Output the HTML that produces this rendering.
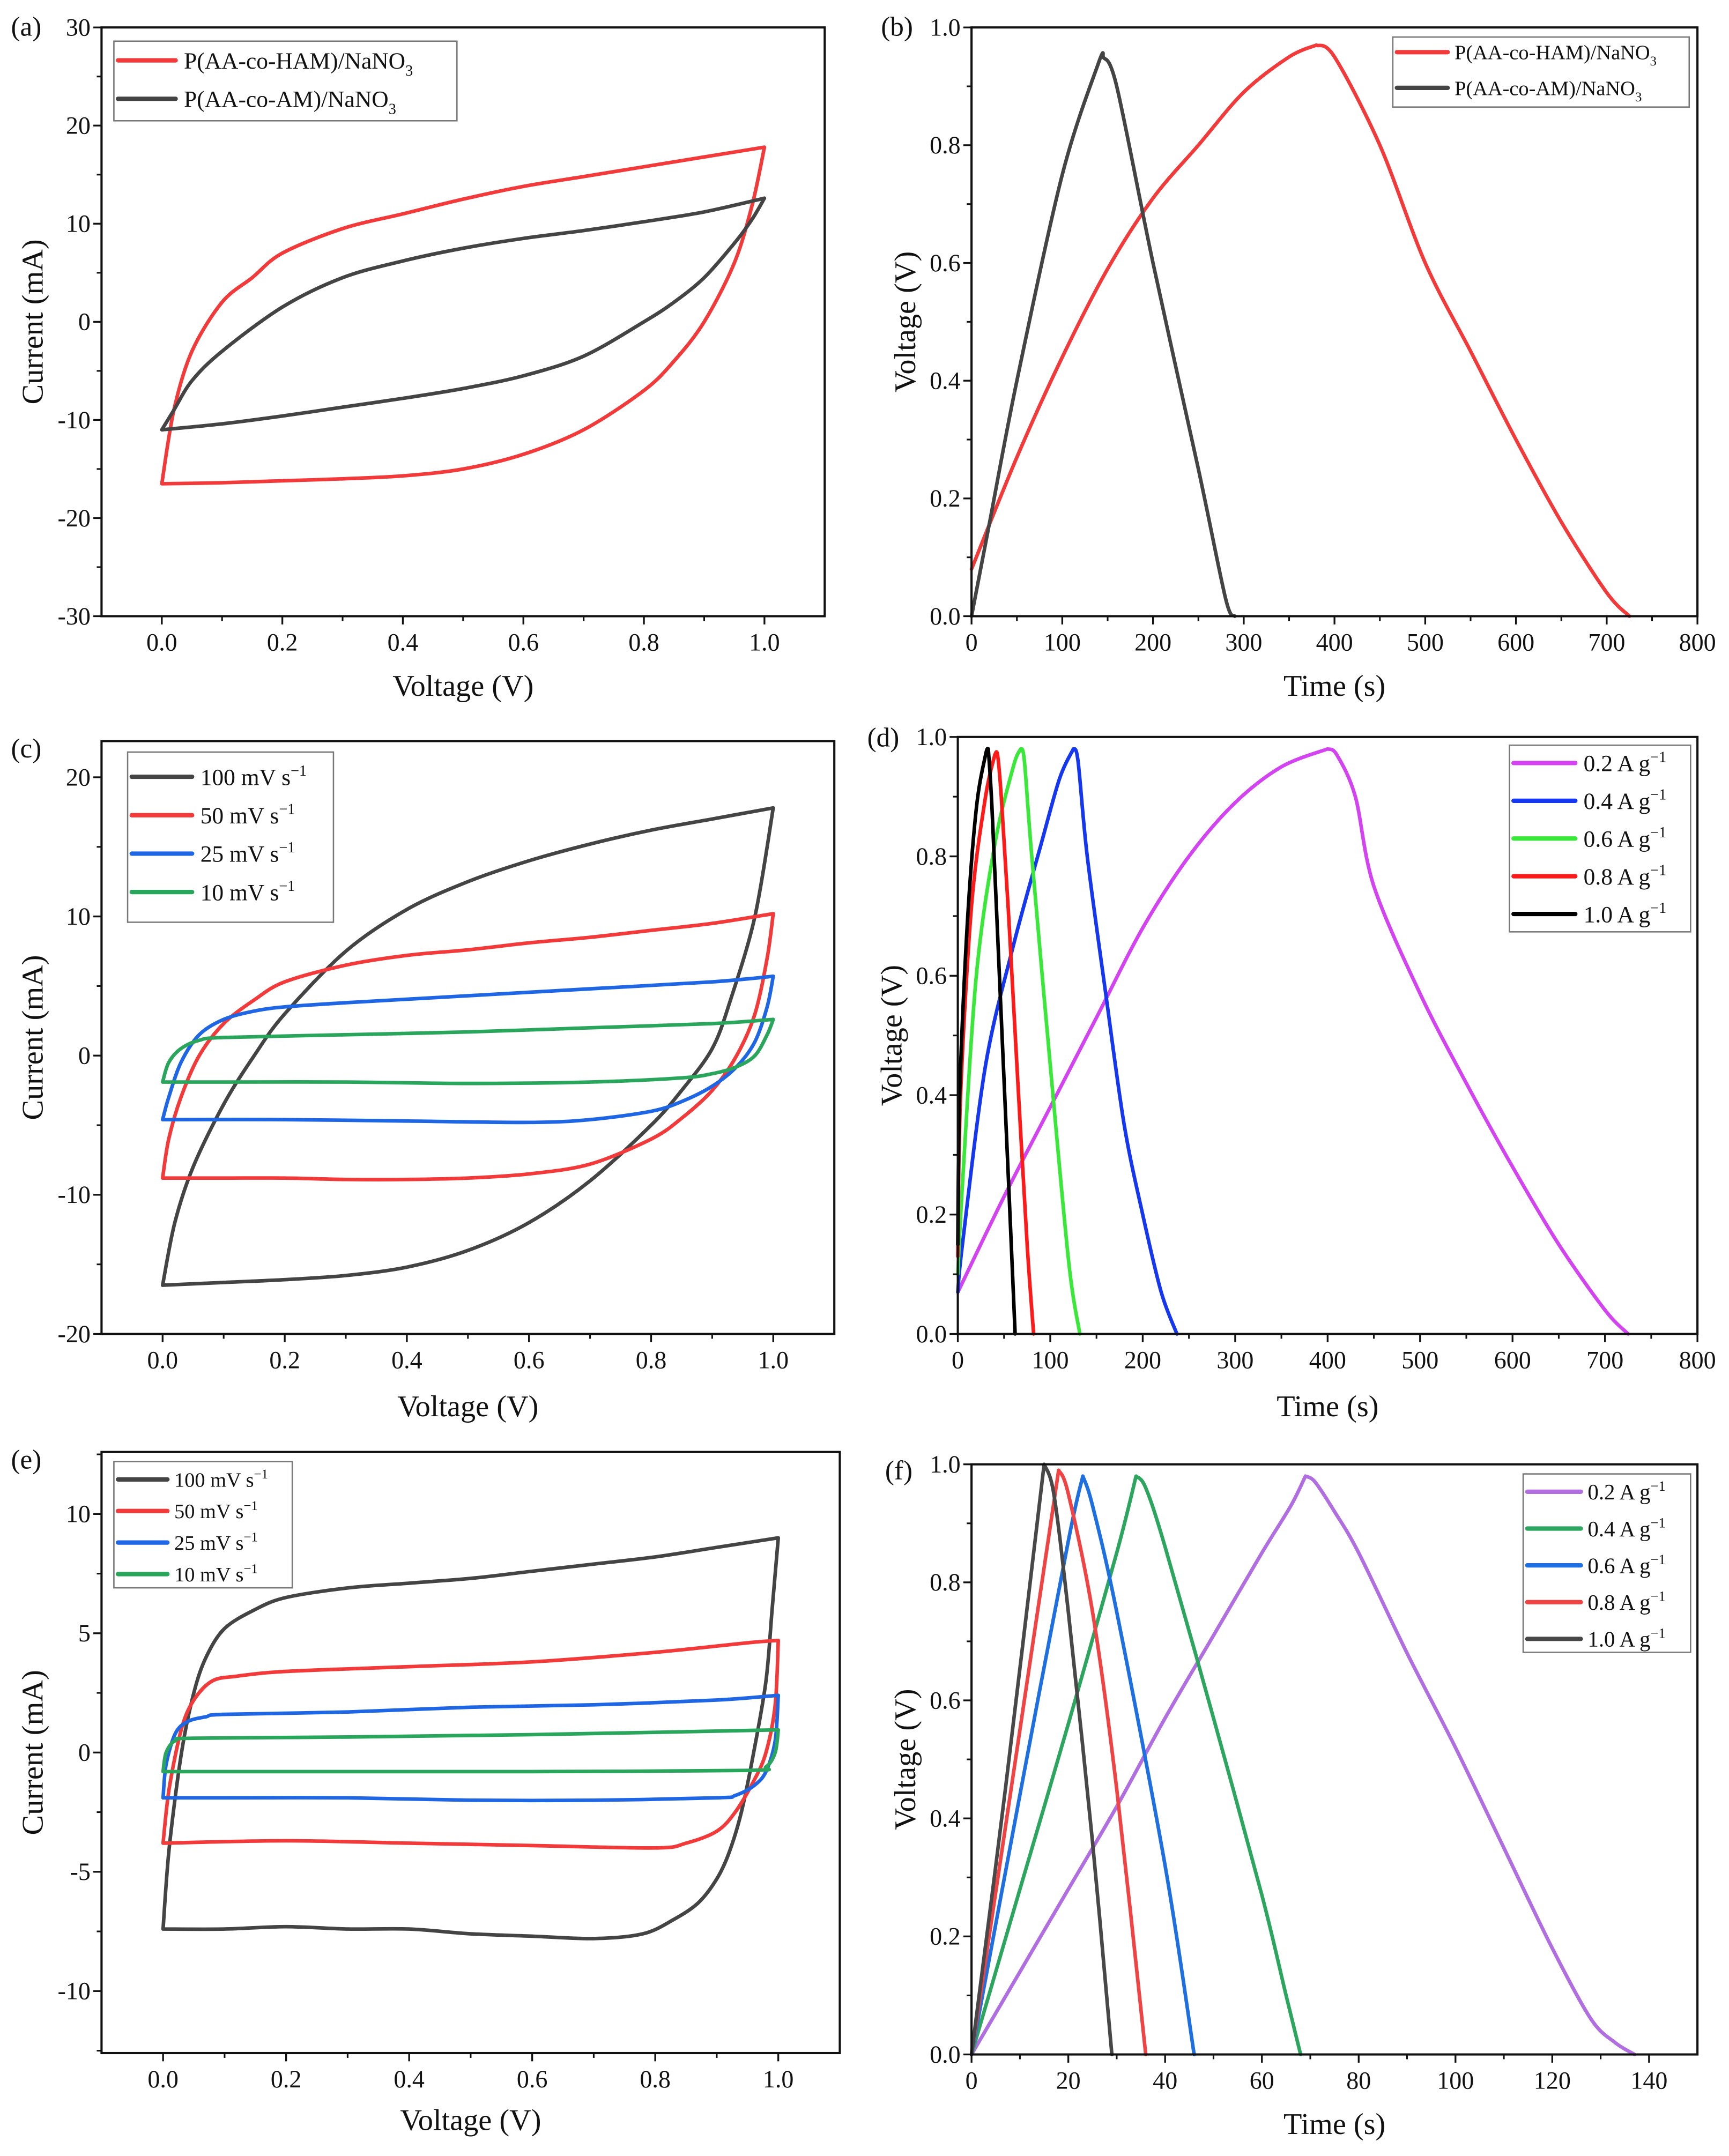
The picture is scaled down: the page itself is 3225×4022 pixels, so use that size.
<!DOCTYPE html>
<html><head><meta charset="utf-8">
<style>
html,body{margin:0;padding:0;background:#fff;}
svg{display:block;}
text{font-family:"Liberation Serif","DejaVu Serif",serif;fill:#111;}
</style></head>
<body>
<svg id="fig" xmlns="http://www.w3.org/2000/svg" width="3225" height="4022" viewBox="0 0 1260 1571" preserveAspectRatio="none"></svg>
<script>
// ---------- Panel (a) data ----------
const aRedV  = [0,0.02,0.05,0.1,0.15,0.2,0.3,0.4,0.5,0.6,0.7,0.8,0.9,1.0, 0.98,0.95,0.9,0.85,0.8,0.7,0.6,0.5,0.4,0.3,0.2,0.1,0.0];
const aRedI  = [-16.5,-9,-3,2,4.5,7,9.5,11,12.5,13.8,14.8,15.8,16.8,17.8, 12,6,0,-4,-7,-11,-13.5,-15,-15.7,-16,-16.2,-16.4,-16.5];
const aGrayV = [0,0.02,0.05,0.1,0.2,0.3,0.4,0.5,0.6,0.7,0.8,0.9,1.0, 0.98,0.95,0.9,0.85,0.8,0.7,0.6,0.5,0.4,0.3,0.2,0.1,0.0];
const aGrayI = [-11,-9,-6,-3,1.5,4.5,6.2,7.5,8.5,9.3,10.2,11.2,12.6, 10.5,8,4.5,2,0,-3.5,-5.5,-6.8,-7.8,-8.7,-9.6,-10.4,-11];
// ---------- Panel (b) data ----------
const bRedT  = [0,50,100,150,200,250,300,350,380,400,450,500,550,600,650,700,725];
const bRedV  = [0.08,0.27,0.44,0.59,0.71,0.8,0.89,0.95,0.97,0.95,0.8,0.6,0.45,0.3,0.16,0.04,0];
const bGrayT = [0,20,50,100,140,145,160,200,250,280,290];
const bGrayV = [0,0.16,0.4,0.75,0.94,0.95,0.9,0.6,0.25,0.03,0];
// ---------- Panel (c) data ----------
const c100V = [0,0.02,0.05,0.1,0.15,0.2,0.3,0.4,0.5,0.6,0.7,0.8,0.9,1.0, 0.97,0.93,0.9,0.85,0.8,0.7,0.6,0.5,0.4,0.3,0.2,0.1,0];
const c100I = [-16.5,-12,-8,-3.5,0,3,7.5,10.5,12.5,14,15.2,16.2,17,17.8, 10,4,0.5,-2.5,-5,-9,-12,-14,-15.2,-15.8,-16.1,-16.3,-16.5];
const c50V  = [0,0.01,0.03,0.06,0.1,0.15,0.2,0.3,0.4,0.5,0.6,0.7,0.8,0.9,1.0, 0.99,0.97,0.94,0.9,0.85,0.8,0.7,0.6,0.5,0.4,0.3,0.2,0.1,0];
const c50I  = [-8.8,-6,-3,0,2.3,4,5.3,6.5,7.2,7.6,8.1,8.5,9,9.5,10.2, 7,3,0,-2.5,-4.5,-6,-7.8,-8.5,-8.8,-8.9,-8.9,-8.8,-8.8,-8.8];
const c25V  = [0,0.01,0.03,0.06,0.1,0.15,0.2,0.3,0.5,0.7,0.9,1.0, 0.99,0.97,0.94,0.9,0.85,0.8,0.7,0.6,0.4,0.2,0];
const c25I  = [-4.6,-3,-0.5,1.5,2.6,3.2,3.5,3.8,4.3,4.8,5.3,5.7, 3.5,1,-0.8,-2.2,-3.3,-4,-4.6,-4.8,-4.7,-4.6,-4.6];
const c10V  = [0,0.01,0.03,0.06,0.1,0.3,0.5,0.7,0.9,1.0, 0.99,0.97,0.94,0.9,0.85,0.7,0.5,0.3,0.1,0];
const c10I  = [-1.9,-0.5,0.5,1.1,1.3,1.5,1.7,2,2.3,2.6, 1.5,0,-0.8,-1.3,-1.6,-1.9,-2,-1.9,-1.9,-1.9];
// ---------- Panel (d) data ----------
const d02T = [0,50,100,150,200,250,300,350,400,410,430,450,500,550,600,650,700,725];
const d02V = [0.07,0.23,0.38,0.53,0.68,0.8,0.89,0.95,0.98,0.97,0.9,0.75,0.57,0.42,0.28,0.15,0.04,0];
const d04T = [0,5,30,60,90,110,125,130,140,160,180,200,220,237];
const d04V = [0.07,0.15,0.45,0.65,0.82,0.93,0.98,0.96,0.8,0.57,0.35,0.2,0.07,0];
const d06T = [0,5,20,40,60,68,72,80,100,120,132];
const d06V = [0.1,0.25,0.6,0.82,0.95,0.98,0.96,0.8,0.45,0.12,0];
const d08T = [0,3,15,30,40,43,47,55,65,75,82];
const d08V = [0.13,0.4,0.72,0.9,0.97,0.97,0.9,0.7,0.42,0.15,0];
const d10T = [0,2,10,20,30,33,37,45,55,62];
const d10V = [0.15,0.4,0.68,0.88,0.97,0.98,0.88,0.6,0.25,0];
// ---------- Panel (e) data ----------
const e100V = [0,0.01,0.03,0.05,0.07,0.1,0.15,0.2,0.3,0.4,0.5,0.6,0.7,0.8,0.9,1.0, 0.99,0.98,0.96,0.94,0.92,0.9,0.87,0.83,0.78,0.7,0.6,0.5,0.4,0.3,0.2,0.1,0];
const e100I = [-7.4,-4,0,2.5,4,5.2,6,6.5,6.9,7.1,7.3,7.6,7.9,8.2,8.6,9, 6,3,0,-2.5,-4.2,-5.3,-6.3,-7,-7.6,-7.8,-7.7,-7.6,-7.4,-7.4,-7.3,-7.4,-7.4];
const e50V  = [0,0.01,0.03,0.05,0.08,0.12,0.2,0.4,0.6,0.8,0.95,1.0, 0.995,0.98,0.96,0.93,0.9,0.85,0.8,0.6,0.4,0.2,0];
const e50I  = [-3.8,-1.5,1,2.2,3,3.2,3.4,3.6,3.8,4.2,4.6,4.7, 2,0,-1.2,-2.5,-3.3,-3.8,-4,-3.9,-3.8,-3.7,-3.8];
const e25V  = [0,0.005,0.02,0.04,0.07,0.1,0.3,0.5,0.7,0.9,1.0, 0.995,0.98,0.96,0.93,0.9,0.7,0.5,0.3,0.1,0];
const e25I  = [-1.9,-0.5,0.8,1.3,1.5,1.6,1.7,1.9,2,2.2,2.4, 0.5,-0.8,-1.4,-1.8,-1.9,-2,-2,-1.9,-1.9,-1.9];
const e10V  = [0,0.005,0.02,0.05,0.3,0.6,1.0, 0.995,0.98,0.95,0.6,0.3,0];
const e10I  = [-0.8,0,0.5,0.6,0.65,0.75,0.95, 0,-0.6,-0.75,-0.8,-0.8,-0.8];
// ---------- Panel (f) data ----------
const f02T = [0,10,20,30,40,50,60,66,69,71,75,80,90,100,110,120,128,133,137];
const f02V = [0,0.14,0.28,0.42,0.57,0.71,0.85,0.93,0.98,0.97,0.92,0.85,0.68,0.52,0.35,0.18,0.06,0.02,0];
const f04T = [0,10,20,30,34,36,40,50,60,65,68];
const f04V = [0,0.28,0.56,0.85,0.98,0.96,0.86,0.57,0.27,0.1,0];
const f06T = [0,10,20,23,25,30,40,46];
const f06V = [0,0.44,0.87,0.98,0.93,0.75,0.32,0];
const f08T = [0,10,18,20,25,30,36];
const f08V = [0,0.55,0.99,0.95,0.75,0.45,0];
const f10T = [0,7,15,17,20,25,29];
const f10V = [0,0.45,1.0,0.95,0.75,0.36,0];
// ---------- Tick labels ----------
const cvXTicks = [0.0,0.2,0.4,0.6,0.8,1.0];
const aYTicks = [-30,-20,-10,0,10,20,30];
const cYTicks = [-20,-10,0,10,20];
const eYTicks = [-10,-5,0,5,10];
const gcdYTicks = [0.0,0.2,0.4,0.6,0.8,1.0];
const gcdXTicks = [0,100,200,300,400,500,600,700,800];
const fXTicks = [0,20,40,60,80,100,120,140];

const NS = 'http://www.w3.org/2000/svg';
const svg = document.getElementById('fig');
function mk(tag, attrs, parent){
  const e = document.createElementNS(NS, tag);
  for (const k in attrs) e.setAttribute(k, attrs[k]);
  (parent||svg).appendChild(e);
  return e;
}
function smoothSeg(pts, first){
  let d = (first ? 'M' : ' L') + pts[0][0].toFixed(2) + ',' + pts[0][1].toFixed(2);
  for (let i=0;i<pts.length-1;i++){
    const p0 = pts[Math.max(0,i-1)], p1 = pts[i], p2 = pts[i+1], p3 = pts[Math.min(pts.length-1,i+2)];
    const t = 0.16;
    const c1x = p1[0] + (p2[0]-p0[0])*t, c1y = p1[1] + (p2[1]-p0[1])*t;
    const c2x = p2[0] - (p3[0]-p1[0])*t, c2y = p2[1] - (p3[1]-p1[1])*t;
    d += ' C' + c1x.toFixed(2)+','+c1y.toFixed(2)+' '+c2x.toFixed(2)+','+c2y.toFixed(2)+' '+p2[0].toFixed(2)+','+p2[1].toFixed(2);
  }
  return d;
}
function fmt(v, dec){ return dec>0 ? v.toFixed(dec) : String(v); }

function panel(cfg){
  const g = mk('g', {});
  
  
  const L=cfg.L,R=cfg.R,T=cfg.T,B=cfg.B;
  const sx = v => L + (v - cfg.x0)/(cfg.x1 - cfg.x0)*(R-L);
  const sy = v => B - (v - cfg.y0)/(cfg.y1 - cfg.y0)*(B-T);
  cfg.series.forEach(s=>{
    const pts = s.x.map((xv,i)=>[sx(xv), sy(s.y[i])]);
    // split at turning point
    const arr = cfg.cv ? s.x : s.y;
    let k = 0;
    for (let i=1;i<arr.length;i++) if (arr[i] > arr[k]) k = i;
    const d = smoothSeg(pts.slice(0,k+1), true) + smoothSeg(pts.slice(k), false).replace(/^ L[^ ]+/, '');
    const p = mk('path', {d: d, fill:'none', stroke:s.color, 'stroke-width':2.6, 'stroke-linejoin':'round','stroke-linecap':'round'}, g);
    
    
  });
  const fr = mk('rect', {x:L,y:T,width:R-L,height:B-T,fill:'none',stroke:'#111','stroke-width':1.6}, g);
  
  
  const xs = cfg.xTicks;
  const xstep = xs[1]-xs[0];
  for (let i=0;i<xs.length;i++){
    const X = sx(xs[i]);
    mk('line',{x1:X,y1:B,x2:X,y2:B+6,stroke:'#111','stroke-width':1.3},g);
    const t = mk('text',{x:X,y:B+25,'text-anchor':'middle','font-size':18},g);
    t.textContent = fmt(xs[i], cfg.xDec);
    
    
    const m = xs[i]+xstep/2;
    if (sx(m) < R-1) mk('line',{x1:sx(m),y1:B,x2:sx(m),y2:B+3.5,stroke:'#111','stroke-width':1.2},g);
    if (i===0 && sx(xs[0]-xstep/2) > L+1) mk('line',{x1:sx(xs[0]-xstep/2),y1:B,x2:sx(xs[0]-xstep/2),y2:B+3.5,stroke:'#111','stroke-width':1.2},g);
  }
  const ys = cfg.yTicks;
  const ystep = ys[1]-ys[0];
  for (let i=0;i<ys.length;i++){
    const Y = sy(ys[i]);
    mk('line',{x1:L-6,y1:Y,x2:L,y2:Y,stroke:'#111','stroke-width':1.3},g);
    const t = mk('text',{x:L-8,y:Y+6,'text-anchor':'end','font-size':18},g);
    t.textContent = fmt(ys[i], cfg.yDec);
    
    
    const m = ys[i]+ystep/2;
    if (sy(m) > T+1) mk('line',{x1:L-3.5,y1:sy(m),x2:L,y2:sy(m),stroke:'#111','stroke-width':1.2},g);
    if (i===0 && sy(ys[0]-ystep/2) < B-1) mk('line',{x1:L-3.5,y1:sy(ys[0]-ystep/2),x2:L,y2:sy(ys[0]-ystep/2),stroke:'#111','stroke-width':1.2},g);
  }
  const xt = mk('text',{x:(L+R)/2,y:cfg.xTitleY,'text-anchor':'middle','font-size':22},g);
  xt.textContent = cfg.xTitle;
  
  
  const yt = mk('text',{x:0,y:0,'text-anchor':'middle','font-size':22,transform:'translate('+cfg.yTitleX+','+((T+B)/2)+') rotate(-90)'},g);
  yt.textContent = cfg.yTitle;
  
  
  const pl = mk('text',{x:cfg.lx,y:cfg.ly,'font-size':20},g);
  pl.textContent = '(' + cfg.id + ')';
  
  
  const lg = cfg.leg;
  const lgG = mk('g',{},g);
  
  
  mk('rect',{x:lg.x,y:lg.y,width:lg.w,height:lg.h,fill:'#fff',stroke:'#777','stroke-width':1},lgG);
  lg.items.forEach((it,i)=>{
    const Y = lg.y0 + i*lg.dy;
    const e = mk('g',{},lgG);
    
    
    mk('line',{x1:lg.lx1,y1:Y,x2:lg.lx2,y2:Y,stroke:it.color,'stroke-width':3.2,'stroke-linecap':'round'},e);
    const t = mk('text',{x:lg.tx,y:Y+lg.fs*0.35,'font-size':lg.fs},e);
    t.appendChild(document.createTextNode(it.label));
    if (it.kind==='no3'){
      const s = mk('tspan',{dy:lg.fs*0.3,'font-size':lg.fs*0.65},t); s.textContent='3';
    } else {
      const s = mk('tspan',{dy:-lg.fs*0.4,'font-size':lg.fs*0.65},t); s.textContent='−1';
    }
  });
}

const RED='#f23a3a', GRAY='#444444';
panel({id:'a',cv:true,L:74,R:601,T:20,B:449,x0:-0.1,x1:1.1,y0:-30,y1:30,xTicks:cvXTicks,xDec:1,yTicks:aYTicks,yDec:0,
  xTitle:'Voltage (V)',xTitleY:507,yTitle:'Current (mA)',yTitleX:31,lx:8,ly:26,
  series:[{key:'ham',x:aRedV,y:aRedI,color:RED},{key:'am',x:aGrayV,y:aGrayI,color:GRAY}],
  leg:{x:83,y:30,w:250,h:58,y0:44,dy:28,lx1:86,lx2:128,tx:134,fs:17,items:[{label:'P(AA-co-HAM)/NaNO',color:RED,kind:'no3'},{label:'P(AA-co-AM)/NaNO',color:GRAY,kind:'no3'}]}});
panel({id:'b',L:708,R:1237,T:20,B:449,x0:0,x1:800,y0:0,y1:1.0,xTicks:gcdXTicks,xDec:0,yTicks:gcdYTicks,yDec:1,
  xTitle:'Time (s)',xTitleY:507,yTitle:'Voltage (V)',yTitleX:667,lx:642,ly:26,
  series:[{key:'ham',x:bRedT,y:bRedV,color:RED},{key:'am',x:bGrayT,y:bGrayV,color:GRAY}],
  leg:{x:1015,y:27,w:216,h:51,y0:38,dy:26,lx1:1018,lx2:1055,tx:1060,fs:15,items:[{label:'P(AA-co-HAM)/NaNO',color:RED,kind:'no3'},{label:'P(AA-co-AM)/NaNO',color:GRAY,kind:'no3'}]}});
const CB='#1f66e5', CG='#2aa65c';
panel({id:'c',cv:true,L:74,R:608,T:540,B:972,x0:-0.1,x1:1.1,y0:-20,y1:22.6,xTicks:cvXTicks,xDec:1,yTicks:cYTicks,yDec:0,
  xTitle:'Voltage (V)',xTitleY:1032,yTitle:'Current (mA)',yTitleX:31,lx:8,ly:552,
  series:[{key:'100',x:c100V,y:c100I,color:GRAY},{key:'50',x:c50V,y:c50I,color:RED},{key:'25',x:c25V,y:c25I,color:CB},{key:'10',x:c10V,y:c10I,color:CG}],
  leg:{x:93,y:548,w:150,h:124,y0:566,dy:28,lx1:96,lx2:140,tx:146,fs:17,items:[{label:'100 mV s',color:GRAY},{label:'50 mV s',color:RED},{label:'25 mV s',color:CB},{label:'10 mV s',color:CG}]}});
const DM='#d344f0', DB='#1537ef', DG='#3ae83a', DR='#ff1a1a', DK='#000000';
panel({id:'d',L:698,R:1237,T:537,B:972,x0:0,x1:800,y0:0,y1:1.0,xTicks:gcdXTicks,xDec:0,yTicks:gcdYTicks,yDec:1,
  xTitle:'Time (s)',xTitleY:1032,yTitle:'Voltage (V)',yTitleX:657,lx:632,ly:544,
  series:[{key:'0.2',x:d02T,y:d02V,color:DM},{key:'0.4',x:d04T,y:d04V,color:DB},{key:'0.6',x:d06T,y:d06V,color:DG},{key:'0.8',x:d08T,y:d08V,color:DR},{key:'1.0',x:d10T,y:d10V,color:DK}],
  leg:{x:1100,y:543,w:132,h:136,y0:556,dy:27.5,lx1:1103,lx2:1148,tx:1154,fs:17,items:[{label:'0.2 A g',color:DM},{label:'0.4 A g',color:DB},{label:'0.6 A g',color:DG},{label:'0.8 A g',color:DR},{label:'1.0 A g',color:DK}]}});
panel({id:'e',cv:true,L:74,R:612,T:1058,B:1496,x0:-0.1,x1:1.1,y0:-12.6,y1:12.6,xTicks:cvXTicks,xDec:1,yTicks:eYTicks,yDec:0,
  xTitle:'Voltage (V)',xTitleY:1552,yTitle:'Current (mA)',yTitleX:31,lx:8,ly:1070,
  series:[{key:'100',x:e100V,y:e100I,color:GRAY},{key:'50',x:e50V,y:e50I,color:RED},{key:'25',x:e25V,y:e25I,color:CB},{key:'10',x:e10V,y:e10I,color:CG}],
  leg:{x:83,y:1065,w:130,h:92,y0:1078,dy:23,lx1:86,lx2:122,tx:127,fs:15,items:[{label:'100 mV s',color:GRAY},{label:'50 mV s',color:RED},{label:'25 mV s',color:CB},{label:'10 mV s',color:CG}]}});
const FP='#b06ee0', FG='#2ca65e', FB='#1e6fe0', FR='#f04444', FK='#484848';
panel({id:'f',L:708,R:1237,T:1067,B:1497,x0:0,x1:150,y0:0,y1:1.0,xTicks:fXTicks,xDec:0,yTicks:gcdYTicks,yDec:1,
  xTitle:'Time (s)',xTitleY:1555,yTitle:'Voltage (V)',yTitleX:667,lx:645,ly:1078,
  series:[{key:'0.2',x:f02T,y:f02V,color:FP},{key:'0.4',x:f04T,y:f04V,color:FG},{key:'0.6',x:f06T,y:f06V,color:FB},{key:'0.8',x:f08T,y:f08V,color:FR},{key:'1.0',x:f10T,y:f10V,color:FK}],
  leg:{x:1110,y:1074,w:122,h:130,y0:1087,dy:26.8,lx1:1113,lx2:1152,tx:1157,fs:16,items:[{label:'0.2 A g',color:FP},{label:'0.4 A g',color:FG},{label:'0.6 A g',color:FB},{label:'0.8 A g',color:FR},{label:'1.0 A g',color:FK}]}});
</script>
</body></html>
